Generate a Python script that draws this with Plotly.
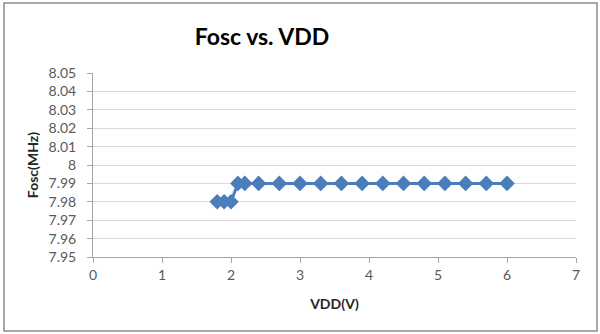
import plotly.graph_objects as go

vdd = [1.8, 1.9, 2.0, 2.1, 2.2, 2.4, 2.7, 3.0, 3.3, 3.6, 3.9, 4.2, 4.5, 4.8, 5.1, 5.4, 5.7, 6.0]
fosc = [7.98, 7.98, 7.98, 7.99, 7.99, 7.99, 7.99, 7.99, 7.99, 7.99, 7.99, 7.99, 7.99, 7.99, 7.99, 7.99, 7.99, 7.99]
y_tickvals = [7.95, 7.96, 7.97, 7.98, 7.99, 8.00, 8.01, 8.02, 8.03, 8.04, 8.05]
y_ticktext = ["7.95", "7.96", "7.97", "7.98", "7.99", "8", "8.01", "8.02", "8.03", "8.04", "8.05"]
x_tickvals = [0, 1, 2, 3, 4, 5, 6, 7]

W, H = 600, 334
ml, mr, mt, mb = 93, 24, 73, 77
pw = W - ml - mr
ph = H - mt - mb

def px_x(p):
    return (p - ml) / pw

def px_y(p):
    return (H - mb - p) / ph

fig = go.Figure()
fig.add_trace(go.Scatter(
    x=vdd, y=fosc, mode="lines+markers",
    line=dict(color="#4A7EBB", width=3),
    marker=dict(symbol="diamond", size=12, color="#4A7EBB"),
    showlegend=False,
))

tick_font = dict(family="Lato, Open Sans, sans-serif", size=14, color="#595959")
fig.update_layout(
    width=W, height=H,
    margin=dict(l=ml, r=mr, t=mt, b=mb),
    paper_bgcolor="white", plot_bgcolor="white",
    title=dict(text="<b>Fosc vs. VDD</b>", x=px_x(262), xref="paper", xanchor="center",
               y=1 - 37 / H, yanchor="middle",
               font=dict(family="Lato, Open Sans, sans-serif", size=23, color="black")),
    xaxis=dict(range=[0, 7], tickvals=x_tickvals, showgrid=False,
               showline=True, linecolor="#a6a6a6", linewidth=1,
               ticks="outside", ticklen=5, tickcolor="#a6a6a6",
               tickfont=tick_font, zeroline=False,
               title=dict(text="<b>VDD(V)</b>", standoff=17,
                          font=dict(family="Lato, Open Sans, sans-serif", size=14, color="#262626"))),
    yaxis=dict(range=[7.95, 8.05], tickvals=y_tickvals, ticktext=y_ticktext,
               showgrid=True, gridcolor="#d9d9d9", gridwidth=1,
               showline=True, linecolor="#a6a6a6", linewidth=1,
               ticks="outside", ticklen=5, tickcolor="#a6a6a6",
               ticklabelstandoff=8,
               tickfont=tick_font, zeroline=False,
               title=dict(text="<b>Fosc(MHz)</b>", standoff=6,
                          font=dict(family="Lato, Open Sans, sans-serif", size=14, color="#262626"))),
    shapes=[dict(type="rect", xref="paper", yref="paper",
                 x0=px_x(4), x1=px_x(597), y0=px_y(331), y1=px_y(3),
                 line=dict(color="#8c8c8c", width=1.5), fillcolor="rgba(0,0,0,0)", layer="below")],
)

fig.write_html("out.html")
